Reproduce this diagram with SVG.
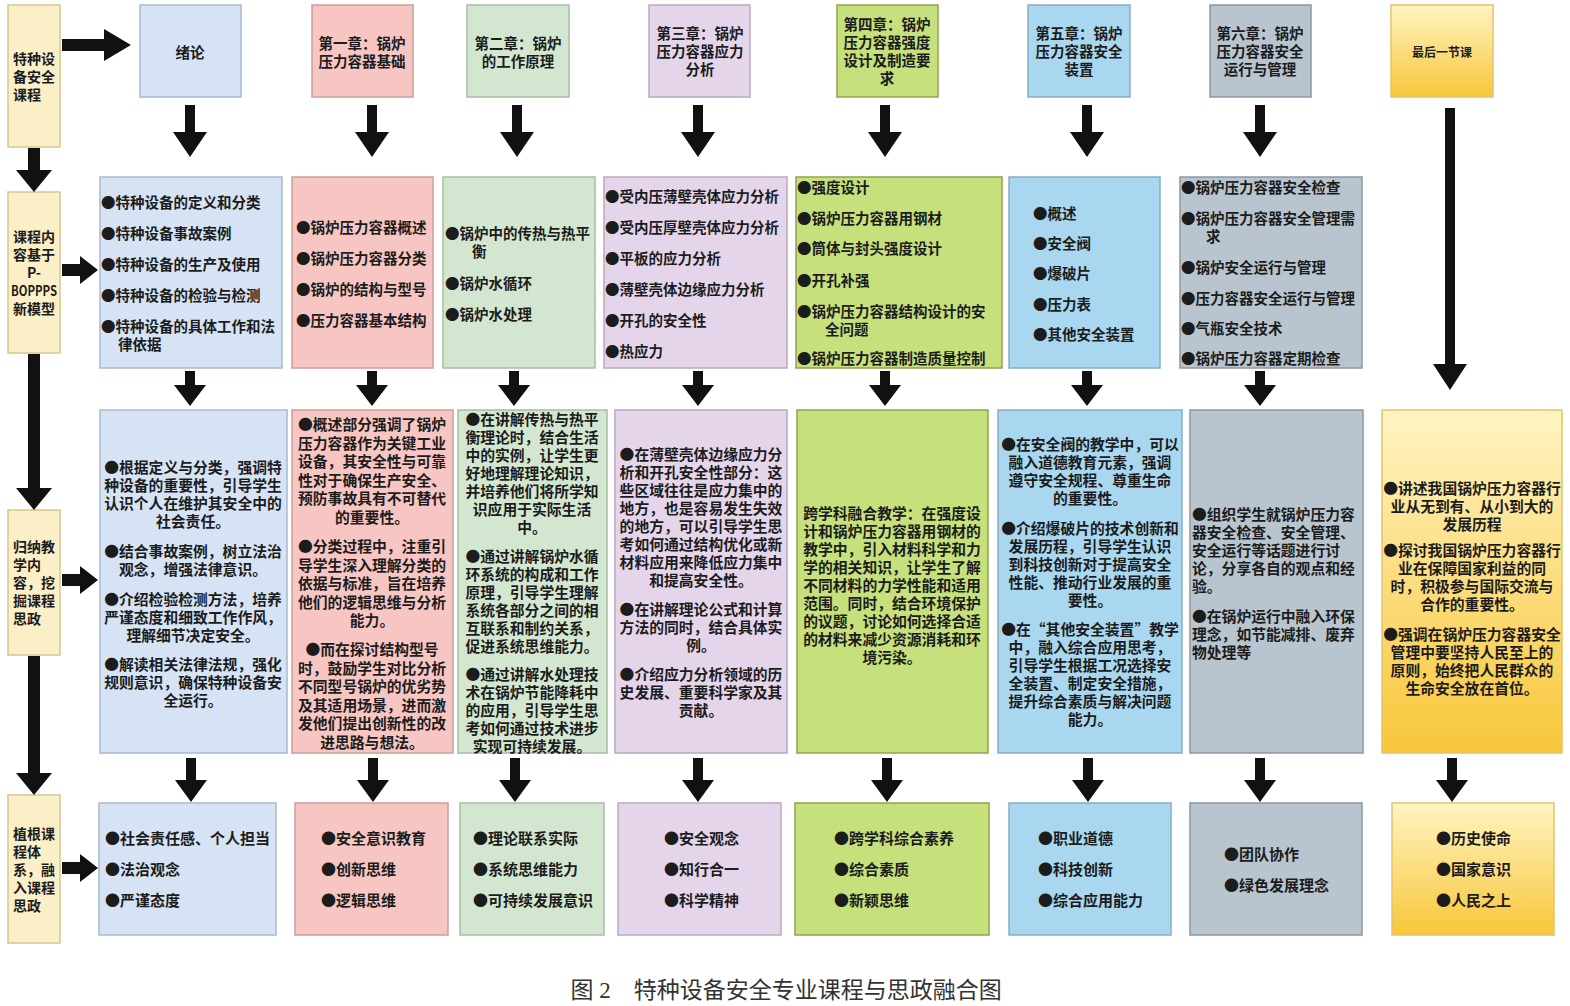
<svg xmlns="http://www.w3.org/2000/svg" width="1570" height="1006" viewBox="0 0 1570 1006">
<defs>
<linearGradient id="gold" x1="0" y1="0" x2="0" y2="1">
<stop offset="0" stop-color="#FFF4C2"/>
<stop offset="1" stop-color="#F8C63A"/>
</linearGradient>
<style>
text{font-family:"Noto Sans CJK SC","Noto Sans",sans-serif;font-weight:700;fill:#1c1c1c;dominant-baseline:central}
.h{font-size:14.5px;text-anchor:middle}
.l{font-size:14px}
.r2{font-size:14.5px}
.r3{font-size:14.8px;text-anchor:middle}
.r3l{font-size:14.8px}
.r4{font-size:15px}
.cap{font-family:"Liberation Serif","Noto Sans CJK SC",serif;font-weight:400;font-size:23px;fill:#333;text-anchor:middle}
.arr{fill:#111}
rect{stroke-width:1.5}
.c0{fill:#FAEFC6;stroke:#D6C68F}
.c1{fill:#D5E3F5;stroke:#A9B9CC}
.c2{fill:#F7C6C2;stroke:#C9A09C}
.c3{fill:#D3E7D0;stroke:#A8BDA5}
.c4{fill:#E5D5EA;stroke:#B9A9BF}
.c5{fill:#C6E07C;stroke:#8FA352}
.c6{fill:#A8D7EF;stroke:#86AFC4}
.c7{fill:#B8C5CF;stroke:#8C98A2}
.c8{fill:url(#gold);stroke:#E2C46A}
</style>
</defs>
<rect x="0" y="0" width="1570" height="1006" fill="#ffffff" stroke="none"/>

<!-- left column -->
<g id="left-course">
<rect class="c0" x="8" y="5" width="52" height="142"/>
<text class="l"><tspan x="13" y="58">特种设</tspan><tspan x="13" y="76">备安全</tspan><tspan x="13" y="94">课程</tspan></text>
</g>
<g id="left-content">
<rect class="c0" x="8" y="192" width="52" height="161"/>
<text class="l"><tspan x="13" y="236">课程内</tspan><tspan x="13" y="254">容基于</tspan></text>
<text class="l" text-anchor="middle"><tspan x="34" y="272">P-</tspan><tspan x="34" y="290" textLength="46" lengthAdjust="spacingAndGlyphs">BOPPPS</tspan></text>
<text class="l"><tspan x="13" y="308">新模型</tspan></text>
</g>
<g id="left-summary">
<rect class="c0" x="8" y="510" width="52" height="145"/>
<text class="l"><tspan x="13" y="546">归纳教</tspan><tspan x="13" y="564">学内</tspan><tspan x="13" y="582">容，挖</tspan><tspan x="13" y="600">掘课程</tspan><tspan x="13" y="618">思政</tspan></text>
</g>
<g id="left-root">
<rect class="c0" x="8" y="795" width="52" height="148"/>
<text class="l"><tspan x="13" y="833">植根课</tspan><tspan x="13" y="851">程体</tspan><tspan x="13" y="869">系，融</tspan><tspan x="13" y="887">入课程</tspan><tspan x="13" y="905">思政</tspan></text>
</g>

<!-- header row -->
<g id="h1"><rect class="c1" x="140" y="5" width="101" height="92"/>
<text class="h"><tspan x="190" y="51">绪论</tspan></text></g>
<g id="h2"><rect class="c2" x="312" y="5" width="101" height="92"/>
<text class="h"><tspan x="362" y="42">第一章：锅炉</tspan><tspan x="362" y="60">压力容器基础</tspan></text></g>
<g id="h3"><rect class="c3" x="467" y="5" width="102" height="92"/>
<text class="h"><tspan x="518" y="42">第二章：锅炉</tspan><tspan x="518" y="60">的工作原理</tspan></text></g>
<g id="h4"><rect class="c4" x="649" y="5" width="101" height="92"/>
<text class="h"><tspan x="700" y="32">第三章：锅炉</tspan><tspan x="700" y="50">压力容器应力</tspan><tspan x="700" y="68">分析</tspan></text></g>
<g id="h5"><rect class="c5" x="837" y="5" width="101" height="92"/>
<text class="h"><tspan x="887" y="23">第四章：锅炉</tspan><tspan x="887" y="41">压力容器强度</tspan><tspan x="887" y="59">设计及制造要</tspan><tspan x="887" y="77">求</tspan></text></g>
<g id="h6"><rect class="c6" x="1028" y="5" width="102" height="92"/>
<text class="h"><tspan x="1079" y="32">第五章：锅炉</tspan><tspan x="1079" y="50">压力容器安全</tspan><tspan x="1079" y="68">装置</tspan></text></g>
<g id="h7"><rect class="c7" x="1210" y="5" width="101" height="92"/>
<text class="h"><tspan x="1260" y="32">第六章：锅炉</tspan><tspan x="1260" y="50">压力容器安全</tspan><tspan x="1260" y="68">运行与管理</tspan></text></g>
<g id="h8"><rect class="c8" x="1391" y="5" width="102" height="92"/>
<text class="h" style="font-size:12px"><tspan x="1442" y="51">最后一节课</tspan></text></g>

<!-- row 2 -->
<g id="r2-1"><rect class="c1" x="100" y="177" width="182" height="191"/>
<text class="r2"><tspan x="101" y="201">●特种设备的定义和分类</tspan><tspan x="101" y="232">●特种设备事故案例</tspan><tspan x="101" y="263">●特种设备的生产及使用</tspan><tspan x="101" y="294">●特种设备的检验与检测</tspan><tspan x="101" y="325">●特种设备的具体工作和法</tspan><tspan x="118" y="343">律依据</tspan></text></g>
<g id="r2-2"><rect class="c2" x="292" y="177" width="141" height="191"/>
<text class="r2"><tspan x="296" y="226">●锅炉压力容器概述</tspan><tspan x="296" y="257">●锅炉压力容器分类</tspan><tspan x="296" y="288">●锅炉的结构与型号</tspan><tspan x="296" y="319">●压力容器基本结构</tspan></text></g>
<g id="r2-3"><rect class="c3" x="443" y="177" width="152" height="191"/>
<text class="r2"><tspan x="445" y="232">●锅炉中的传热与热平</tspan><tspan x="472" y="250">衡</tspan><tspan x="445" y="282">●锅炉水循环</tspan><tspan x="445" y="313">●锅炉水处理</tspan></text></g>
<g id="r2-4"><rect class="c4" x="604" y="177" width="183" height="191"/>
<text class="r2"><tspan x="605" y="195">●受内压薄壁壳体应力分析</tspan><tspan x="605" y="226">●受内压厚壁壳体应力分析</tspan><tspan x="605" y="257">●平板的应力分析</tspan><tspan x="605" y="288">●薄壁壳体边缘应力分析</tspan><tspan x="605" y="319">●开孔的安全性</tspan><tspan x="605" y="350">●热应力</tspan></text></g>
<g id="r2-5"><rect class="c5" x="796" y="177" width="206" height="191"/>
<text class="r2"><tspan x="797" y="186">●强度设计</tspan><tspan x="797" y="217">●锅炉压力容器用钢材</tspan><tspan x="797" y="247">●筒体与封头强度设计</tspan><tspan x="797" y="279">●开孔补强</tspan><tspan x="797" y="310">●锅炉压力容器结构设计的安</tspan><tspan x="825" y="328">全问题</tspan><tspan x="797" y="357">●锅炉压力容器制造质量控制</tspan></text></g>
<g id="r2-6"><rect class="c6" x="1009" y="177" width="151" height="191"/>
<text class="r2"><tspan x="1033" y="212">●概述</tspan><tspan x="1033" y="242">●安全阀</tspan><tspan x="1033" y="272">●爆破片</tspan><tspan x="1033" y="303">●压力表</tspan><tspan x="1033" y="333">●其他安全装置</tspan></text></g>
<g id="r2-7"><rect class="c7" x="1180" y="177" width="182" height="191"/>
<text class="r2"><tspan x="1181" y="186">●锅炉压力容器安全检查</tspan><tspan x="1181" y="217">●锅炉压力容器安全管理需</tspan><tspan x="1206" y="235">求</tspan><tspan x="1181" y="266">●锅炉安全运行与管理</tspan><tspan x="1181" y="297">●压力容器安全运行与管理</tspan><tspan x="1181" y="327">●气瓶安全技术</tspan><tspan x="1181" y="357">●锅炉压力容器定期检查</tspan></text></g>

<!-- row 3 -->
<g id="r3-1"><rect class="c1" x="100" y="410" width="187" height="343"/>
<text class="r3"><tspan x="193" y="466">●根据定义与分类，强调特</tspan><tspan x="193" y="484">种设备的重要性，引导学生</tspan><tspan x="193" y="502">认识个人在维护其安全中的</tspan><tspan x="193" y="520">社会责任。</tspan><tspan x="193" y="550">●结合事故案例，树立法治</tspan><tspan x="193" y="568">观念，增强法律意识。</tspan><tspan x="193" y="598">●介绍检验检测方法，培养</tspan><tspan x="193" y="616">严谨态度和细致工作作风，</tspan><tspan x="193" y="634">理解细节决定安全。</tspan><tspan x="193" y="663">●解读相关法律法规，强化</tspan><tspan x="193" y="681">规则意识，确保特种设备安</tspan><tspan x="193" y="699">全运行。</tspan></text></g>
<g id="r3-2"><rect class="c2" x="292" y="410" width="161" height="343"/>
<text class="r3"><tspan x="372" y="423">●概述部分强调了锅炉</tspan><tspan x="372" y="441.5">压力容器作为关键工业</tspan><tspan x="372" y="460">设备，其安全性与可靠</tspan><tspan x="372" y="478.5">性对于确保生产安全、</tspan><tspan x="372" y="497">预防事故具有不可替代</tspan><tspan x="372" y="515.5">的重要性。</tspan><tspan x="372" y="545">●分类过程中，注重引</tspan><tspan x="372" y="563.5">导学生深入理解分类的</tspan><tspan x="372" y="582">依据与标准，旨在培养</tspan><tspan x="372" y="600.5">他们的逻辑思维与分析</tspan><tspan x="372" y="619">能力。</tspan><tspan x="372" y="648">●而在探讨结构型号</tspan><tspan x="372" y="666.5">时，鼓励学生对比分析</tspan><tspan x="372" y="685">不同型号锅炉的优劣势</tspan><tspan x="372" y="703.5">及其适用场景，进而激</tspan><tspan x="372" y="722">发他们提出创新性的改</tspan><tspan x="372" y="740.5">进思路与想法。</tspan></text></g>
<g id="r3-3"><rect class="c3" x="458" y="410" width="149" height="343"/>
<text class="r3"><tspan x="532" y="418">●在讲解传热与热平</tspan><tspan x="532" y="436">衡理论时，结合生活</tspan><tspan x="532" y="454">中的实例，让学生更</tspan><tspan x="532" y="472">好地理解理论知识，</tspan><tspan x="532" y="490">并培养他们将所学知</tspan><tspan x="532" y="508">识应用于实际生活</tspan><tspan x="532" y="526">中。</tspan><tspan x="532" y="555">●通过讲解锅炉水循</tspan><tspan x="532" y="573">环系统的构成和工作</tspan><tspan x="532" y="591">原理，引导学生理解</tspan><tspan x="532" y="609">系统各部分之间的相</tspan><tspan x="532" y="627">互联系和制约关系，</tspan><tspan x="532" y="645">促进系统思维能力。</tspan><tspan x="532" y="673">●通过讲解水处理技</tspan><tspan x="532" y="691">术在锅炉节能降耗中</tspan><tspan x="532" y="709">的应用，引导学生思</tspan><tspan x="532" y="727">考如何通过技术进步</tspan><tspan x="532" y="745">实现可持续发展。</tspan></text></g>
<g id="r3-4"><rect class="c4" x="615" y="410" width="172" height="343"/>
<text class="r3"><tspan x="701" y="453">●在薄壁壳体边缘应力分</tspan><tspan x="701" y="471">析和开孔安全性部分：这</tspan><tspan x="701" y="489">些区域往往是应力集中的</tspan><tspan x="701" y="507">地方，也是容易发生失效</tspan><tspan x="701" y="525">的地方，可以引导学生思</tspan><tspan x="701" y="543">考如何通过结构优化或新</tspan><tspan x="701" y="561">材料应用来降低应力集中</tspan><tspan x="701" y="579">和提高安全性。</tspan><tspan x="701" y="608">●在讲解理论公式和计算</tspan><tspan x="701" y="626">方法的同时，结合具体实</tspan><tspan x="701" y="644">例。</tspan><tspan x="701" y="673">●介绍应力分析领域的历</tspan><tspan x="701" y="691">史发展、重要科学家及其</tspan><tspan x="701" y="709">贡献。</tspan></text></g>
<g id="r3-5"><rect class="c5" x="797" y="410" width="191" height="343"/>
<text class="r3"><tspan x="892" y="512">跨学科融合教学：在强度设</tspan><tspan x="892" y="530">计和锅炉压力容器用钢材的</tspan><tspan x="892" y="548">教学中，引入材料科学和力</tspan><tspan x="892" y="566">学的相关知识，让学生了解</tspan><tspan x="892" y="584">不同材料的力学性能和适用</tspan><tspan x="892" y="602">范围。同时，结合环境保护</tspan><tspan x="892" y="620">的议题，讨论如何选择合适</tspan><tspan x="892" y="638">的材料来减少资源消耗和环</tspan><tspan x="892" y="656">境污染。</tspan></text></g>
<g id="r3-6"><rect class="c6" x="998" y="410" width="184" height="343"/>
<text class="r3"><tspan x="1090" y="443">●在安全阀的教学中，可以</tspan><tspan x="1090" y="461">融入道德教育元素，强调</tspan><tspan x="1090" y="479">遵守安全规程、尊重生命</tspan><tspan x="1090" y="497">的重要性。</tspan><tspan x="1090" y="527">●介绍爆破片的技术创新和</tspan><tspan x="1090" y="545">发展历程，引导学生认识</tspan><tspan x="1090" y="563">到科技创新对于提高安全</tspan><tspan x="1090" y="581">性能、推动行业发展的重</tspan><tspan x="1090" y="599">要性。</tspan><tspan x="1090" y="628">●在“其他安全装置”教学</tspan><tspan x="1090" y="646">中，融入综合应用思考，</tspan><tspan x="1090" y="664">引导学生根据工况选择安</tspan><tspan x="1090" y="682">全装置、制定安全措施，</tspan><tspan x="1090" y="700">提升综合素质与解决问题</tspan><tspan x="1090" y="718">能力。</tspan></text></g>
<g id="r3-7"><rect class="c7" x="1190" y="410" width="173" height="343"/>
<text class="r3l"><tspan x="1192" y="513">●组织学生就锅炉压力容</tspan><tspan x="1192" y="531">器安全检查、安全管理、</tspan><tspan x="1192" y="549">安全运行等话题进行讨</tspan><tspan x="1192" y="567">论，分享各自的观点和经</tspan><tspan x="1192" y="585">验。</tspan><tspan x="1192" y="615">●在锅炉运行中融入环保</tspan><tspan x="1192" y="633">理念，如节能减排、废弃</tspan><tspan x="1192" y="651">物处理等</tspan></text></g>
<g id="r3-8"><rect class="c8" x="1382" y="410" width="180" height="343"/>
<text class="r3"><tspan x="1472" y="487">●讲述我国锅炉压力容器行</tspan><tspan x="1472" y="505">业从无到有、从小到大的</tspan><tspan x="1472" y="523">发展历程</tspan><tspan x="1472" y="549">●探讨我国锅炉压力容器行</tspan><tspan x="1472" y="567">业在保障国家利益的同</tspan><tspan x="1472" y="585">时，积极参与国际交流与</tspan><tspan x="1472" y="603">合作的重要性。</tspan><tspan x="1472" y="633">●强调在锅炉压力容器安全</tspan><tspan x="1472" y="651">管理中要坚持人民至上的</tspan><tspan x="1472" y="669">原则，始终把人民群众的</tspan><tspan x="1472" y="687">生命安全放在首位。</tspan></text></g>

<!-- row 4 -->
<g id="r4-1"><rect class="c1" x="99" y="803" width="177" height="132"/>
<text class="r4"><tspan x="105" y="837">●社会责任感、个人担当</tspan><tspan x="105" y="868">●法治观念</tspan><tspan x="105" y="899">●严谨态度</tspan></text></g>
<g id="r4-2"><rect class="c2" x="295" y="803" width="153" height="132"/>
<text class="r4"><tspan x="321" y="837">●安全意识教育</tspan><tspan x="321" y="868">●创新思维</tspan><tspan x="321" y="899">●逻辑思维</tspan></text></g>
<g id="r4-3"><rect class="c3" x="460" y="803" width="144" height="132"/>
<text class="r4"><tspan x="473" y="837">●理论联系实际</tspan><tspan x="473" y="868">●系统思维能力</tspan><tspan x="473" y="899">●可持续发展意识</tspan></text></g>
<g id="r4-4"><rect class="c4" x="618" y="803" width="163" height="132"/>
<text class="r4"><tspan x="664" y="837">●安全观念</tspan><tspan x="664" y="868">●知行合一</tspan><tspan x="664" y="899">●科学精神</tspan></text></g>
<g id="r4-5"><rect class="c5" x="795" y="803" width="194" height="132"/>
<text class="r4"><tspan x="834" y="837">●跨学科综合素养</tspan><tspan x="834" y="868">●综合素质</tspan><tspan x="834" y="899">●新颖思维</tspan></text></g>
<g id="r4-6"><rect class="c6" x="1009" y="803" width="162" height="132"/>
<text class="r4"><tspan x="1038" y="837">●职业道德</tspan><tspan x="1038" y="868">●科技创新</tspan><tspan x="1038" y="899">●综合应用能力</tspan></text></g>
<g id="r4-7"><rect class="c7" x="1190" y="803" width="172" height="132"/>
<text class="r4"><tspan x="1224" y="853">●团队协作</tspan><tspan x="1224" y="884">●绿色发展理念</tspan></text></g>
<g id="r4-8"><rect class="c8" x="1392" y="803" width="162" height="132"/>
<text class="r4"><tspan x="1436" y="837">●历史使命</tspan><tspan x="1436" y="868">●国家意识</tspan><tspan x="1436" y="899">●人民之上</tspan></text></g>

<!-- connectors -->
<g id="connectors" class="arr">
<polygon points="62,39 104,39 104,29 131,45 104,61 104,51 62,51"/>
<polygon points="62,264 80,264 80,256 98,270 80,284 80,276 62,276"/>
<polygon points="62,574 80,574 80,566 98,580 80,594 80,586 62,586"/>
<polygon points="62,862 80,862 80,854 98,868 80,882 80,874 62,874"/>
<polygon points="28,148 40,148 40,170 52,170 34,192 16,170 28,170"/>
<polygon points="28,354 40,354 40,488 52,488 34,510 16,488 28,488"/>
<polygon points="28,656 40,656 40,773 52,773 34,795 16,773 28,773"/>

<polygon points="185,105 195,105 195,132 207,132 190,157 173,132 185,132"/>
<polygon points="367,105 377,105 377,132 389,132 372,157 355,132 367,132"/>
<polygon points="512,105 522,105 522,132 534,132 517,157 500,132 512,132"/>
<polygon points="693,105 703,105 703,132 715,132 698,157 681,132 693,132"/>
<polygon points="880,105 890,105 890,132 902,132 885,157 868,132 880,132"/>
<polygon points="1082,105 1092,105 1092,132 1104,132 1087,157 1070,132 1082,132"/>
<polygon points="1255,105 1265,105 1265,132 1277,132 1260,157 1243,132 1255,132"/>
<polygon points="1445,108 1455,108 1455,364 1467,364 1450,390 1433,364 1445,364"/>

<polygon points="185,371 195,371 195,385 206,385 190,406 174,385 185,385"/>
<polygon points="367,371 377,371 377,385 388,385 372,406 356,385 367,385"/>
<polygon points="509,371 519,371 519,385 530,385 514,406 498,385 509,385"/>
<polygon points="693,371 703,371 703,385 714,385 698,406 682,385 693,385"/>
<polygon points="880,371 890,371 890,385 901,385 885,406 869,385 880,385"/>
<polygon points="1082,371 1092,371 1092,385 1103,385 1087,406 1071,385 1082,385"/>
<polygon points="1255,371 1265,371 1265,385 1276,385 1260,406 1244,385 1255,385"/>

<polygon points="186,758 196,758 196,780 207,780 191,802 175,780 186,780"/>
<polygon points="368,758 378,758 378,780 389,780 373,802 357,780 368,780"/>
<polygon points="510,758 520,758 520,780 531,780 515,802 499,780 510,780"/>
<polygon points="693,758 703,758 703,780 714,780 698,802 682,780 693,780"/>
<polygon points="882,758 892,758 892,780 903,780 887,802 871,780 882,780"/>
<polygon points="1083,758 1093,758 1093,780 1104,780 1088,802 1072,780 1083,780"/>
<polygon points="1255,758 1265,758 1265,780 1276,780 1260,802 1244,780 1255,780"/>
<polygon points="1447,758 1457,758 1457,780 1468,780 1452,802 1436,780 1447,780"/>
</g>

<text class="cap" x="786" y="990">图 2　特种设备安全专业课程与思政融合图</text>
</svg>
